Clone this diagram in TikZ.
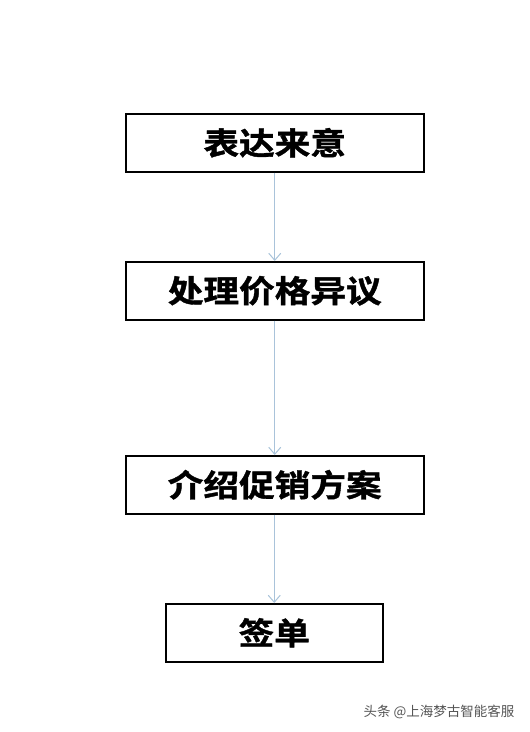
\documentclass[tikz,border=0pt]{standalone}
\usepackage{fontspec}
\newfontfamily\cjk{Noto Sans CJK SC}
\newfontfamily\cjkb[FakeBold=1.2]{Noto Sans CJK SC Bold}
\usetikzlibrary{arrows.meta}
\definecolor{arrowc}{HTML}{A9C3DA}
\definecolor{wmark}{HTML}{555555}
\tikzset{
  stepbox/.style={draw=black, line width=1.5pt, fill=white, inner sep=0pt, anchor=north west},
  steptext/.style={font=\cjkb\fontsize{31}{31}\selectfont, text=black},
  flow/.style={draw=arrowc, line width=1pt, -{Straight Barb[length=7pt,width=12pt,line width=1pt]}}
}
\begin{document}
\begin{tikzpicture}[x=1pt,y=-1pt]
\useasboundingbox[fill=white] (0,0) rectangle (530,732);
\node[stepbox, minimum width=298pt, minimum height=58pt] (b1) at (125,113) {};
\node[stepbox, minimum width=298pt, minimum height=58pt] (b2) at (125,261) {};
\node[stepbox, minimum width=298pt, minimum height=58pt] (b3) at (125,455) {};
\node[stepbox, minimum width=217pt, minimum height=58pt] (b4) at (165,603) {};
\node[steptext] (t1) at (b1.center) {\scalebox{1.15}[1]{表达来意}};
\node[steptext] (t2) at (b2.center) {\scalebox{1.15}[1]{处理价格异议}};
\node[steptext] (t3) at (b3.center) {\scalebox{1.15}[1]{介绍促销方案}};
\node[steptext] (t4) at (b4.center) {\scalebox{1.15}[1]{签单}};
\draw[flow] (b1.south) -- (b2.north);
\draw[flow] (b2.south) -- (b3.north);
\draw[flow] (b3.south -| b4.north) -- (b4.north);
\node[font=\cjk\fontsize{13.5}{13.5}\selectfont, text=wmark, anchor=east] (wm) at (518,712) {头条 @上海梦古智能客服};
\end{tikzpicture}
\end{document}
